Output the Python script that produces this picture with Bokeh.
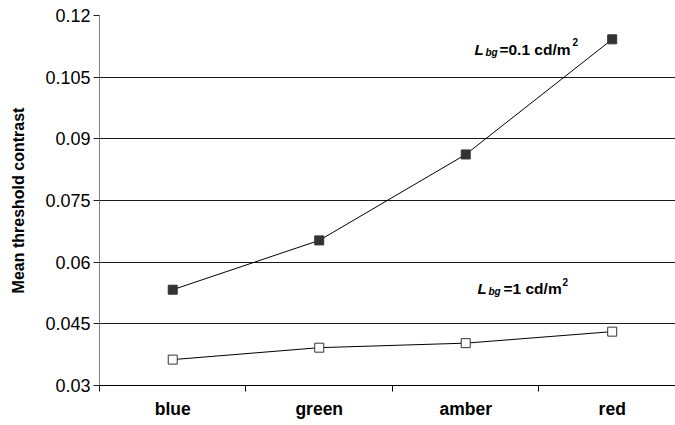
from bokeh.plotting import figure
from bokeh.models import FixedTicker, Range1d, Label
from bokeh.embed import file_html
from bokeh.resources import INLINE

categories = ["blue", "green", "amber", "red"]
lbg_01 = [0.0533, 0.0653, 0.0862, 0.1142]   # L_bg = 0.1 cd/m2
lbg_1 = [0.0363, 0.0392, 0.0403, 0.0431]    # L_bg = 1 cd/m2
y_ticks = [0.03, 0.045, 0.06, 0.075, 0.09, 0.105, 0.12]
y_tick_labels = ["0.03", "0.045", "0.06", "0.075", "0.09", "0.105", "0.12"]

xs = [i + 0.5 for i in range(len(categories))]
bounds = list(range(len(categories) + 1))

FONT = "Liberation Sans"

p = figure(width=675, height=425, output_backend="svg", toolbar_location=None,
           x_range=Range1d(0, 3.932), y_range=Range1d(0.03, 0.12),
           min_border_left=99, min_border_right=0, min_border_top=15, min_border_bottom=40)
p.outline_line_color = None
p.background_fill_color = "white"
p.border_fill_color = "white"

# y axis
p.yaxis.ticker = FixedTicker(ticks=y_ticks, minor_ticks=[])
p.yaxis.major_label_overrides = {t: l for t, l in zip(y_ticks, y_tick_labels)}
p.yaxis.axis_line_color = "#808080"
p.yaxis.major_tick_line_color = "#202020"
p.yaxis.major_tick_out = 6
p.yaxis.major_tick_in = 0
p.yaxis.minor_tick_line_color = None
p.yaxis.major_label_text_font = FONT
p.yaxis.major_label_text_font_size = "18px"
p.yaxis.major_label_text_color = "black"
p.yaxis.major_label_standoff = 3
p.yaxis.axis_label = "Mean threshold contrast"
p.yaxis.axis_label_text_font = FONT
p.yaxis.axis_label_text_font_style = "bold"
p.yaxis.axis_label_text_font_size = "16px"
p.yaxis.axis_label_text_color = "black"
p.yaxis.axis_label_standoff = 15

# x axis: labels at category centres, ticks at boundaries
p.xaxis.ticker = FixedTicker(ticks=xs, minor_ticks=bounds)
p.xaxis.major_label_overrides = {x: c for x, c in zip(xs, categories)}
p.xaxis.major_tick_line_color = None
p.xaxis.minor_tick_line_color = "black"
p.xaxis.minor_tick_out = 6
p.xaxis.minor_tick_in = 0
p.xaxis.axis_line_color = "black"
p.xaxis.major_label_text_font = FONT
p.xaxis.major_label_text_font_style = "bold"
p.xaxis.major_label_text_font_size = "17.5px"
p.xaxis.major_label_text_color = "black"
p.xaxis.major_label_standoff = 7

# grid
p.xgrid.grid_line_color = None
p.ygrid.ticker = FixedTicker(ticks=y_ticks)
p.ygrid.grid_line_color = "#1a1a1a"
p.ygrid.grid_line_width = 1

# series
p.line(xs, lbg_01, line_color="black", line_width=1)
p.scatter(xs, lbg_01, marker="square", size=9, fill_color="#333333", line_color="#333333")
p.line(xs, lbg_1, line_color="black", line_width=1)
p.scatter(xs, lbg_1, marker="square", size=9, fill_color="white", line_color="#333333", line_width=1)

def annotate(x_L, x_bg, x_eq, x_sup, y, rest):
    common = dict(text_font=FONT, text_color="black", text_baseline="alphabetic", text_align="left")
    p.add_layout(Label(x=x_L, y=y, text="L", text_font_size="15px", text_font_style="bold italic", **common))
    p.add_layout(Label(x=x_bg, y=y, y_offset=-3, text="bg", text_font_size="10px", text_font_style="bold italic", **common))
    p.add_layout(Label(x=x_eq, y=y, text=rest, text_font_size="15.5px", text_font_style="bold", **common))
    p.add_layout(Label(x=x_sup, y=y, y_offset=7, text="2", text_font_size="10px", text_font_style="bold", **common))

annotate(2.560, 2.635, 2.730, 3.229, 0.11173, "=0.1 cd/m")
annotate(2.580, 2.655, 2.758, 3.160, 0.05359, "=1 cd/m")

open("out.html", "w").write(file_html(p, INLINE))
